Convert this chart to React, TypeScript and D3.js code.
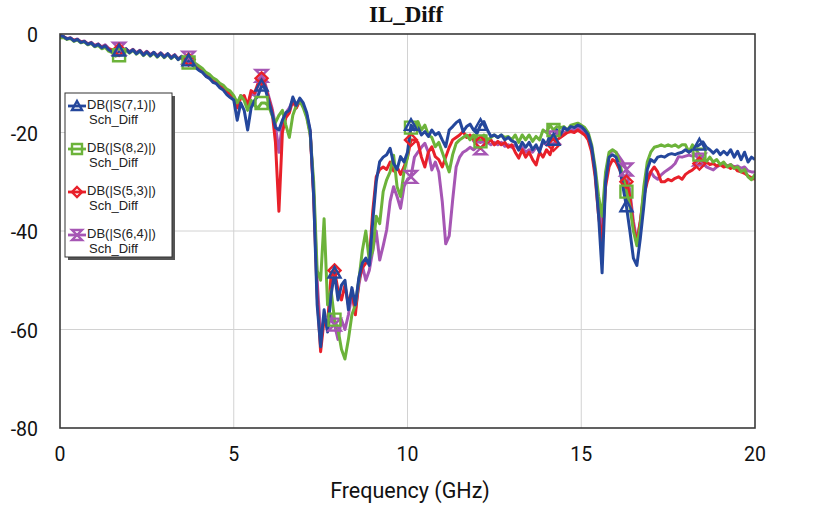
import * as d3 from 'd3';

// sweep 0..20 GHz, 0.1 GHz step (201 pts per trace)
const freqStepGHz = 0.1;

const s71 = [
  -0.3, -0.5, -1.0, -0.8, -1.4, -1.1, -1.7, -1.5, -2.1, -1.8,
  -2.5, -2.1, -2.8, -2.4, -3.2, -3.6, -4.1, -3.4, -3.9, -3.0,
  -3.8, -3.2, -4.0, -3.4, -4.3, -3.6, -4.4, -3.7, -4.6, -3.9,
  -4.7, -4.0, -4.9, -4.3, -5.2, -4.6, -5.8, -5.4, -6.3, -6.8,
  -7.4, -7.8, -8.6, -9.0, -9.8, -10.1, -10.9, -11.4, -12.3, -12.9,
  -13.4, -17.5, -14.0, -15.5, -19.5, -15.0, -13.5, -12.5, -10.5, -11.0,
  -13.5, -16.0, -19.0, -19.5, -17.5, -16.0, -15.5, -12.8, -14.5, -13.0,
  -14.0, -16.0, -19.5, -33.0, -55.0, -63.5, -56.0, -60.5, -53.0, -48.5,
  -54.0, -51.0, -50.0, -56.0, -51.5, -55.0, -49.5, -46.5, -45.5, -47.0,
  -38.0, -30.0, -25.9, -25.0, -24.5, -23.2, -26.3, -27.5, -24.9, -26.0,
  -24.0, -18.5, -19.5, -19.0, -20.5, -19.8, -20.8, -19.5, -20.5, -20.0,
  -21.5, -22.9, -19.5, -18.8, -18.0, -17.5, -19.8, -18.8, -18.3, -19.5,
  -20.2, -18.5, -17.8, -19.5, -20.8, -20.5, -21.0, -20.5, -21.5, -21.0,
  -21.7, -22.0, -23.6, -22.0, -23.0, -22.0, -23.5, -22.5, -24.0, -21.5,
  -22.5, -20.5, -21.5, -19.5, -20.5, -19.0, -19.5, -18.8, -19.0, -18.5,
  -18.8, -19.5, -20.5, -23.0, -28.0, -37.0, -48.5, -30.0, -25.0, -24.5,
  -25.0, -27.0, -31.0, -35.0, -40.0, -45.5, -47.0, -41.5, -35.0, -27.5,
  -25.5, -26.0, -25.0, -24.8, -25.0, -24.5, -24.3, -24.5, -24.2, -24.0,
  -23.5, -24.0, -23.5, -23.0, -22.5, -21.9, -23.0, -23.5, -24.2, -23.5,
  -24.5, -23.8, -24.5, -23.5, -25.0, -23.8, -25.5, -24.0, -26.0, -25.0,
  -25.5,
];

const s82 = [
  -0.8, -0.7, -1.1, -0.9, -1.5, -1.2, -1.8, -1.6, -2.2, -1.9,
  -2.6, -2.3, -3.0, -2.7, -3.5, -3.8, -4.5, -4.3, -4.2, -3.3,
  -3.9, -3.3, -4.1, -3.5, -4.4, -3.8, -4.5, -3.9, -4.7, -4.0,
  -4.8, -4.1, -5.0, -4.4, -5.2, -4.6, -5.5, -5.8, -5.6, -6.0,
  -6.5, -7.0, -7.8, -8.2, -8.9, -9.3, -10.0, -10.4, -11.2, -11.6,
  -12.5, -14.0, -12.5, -13.5, -15.5, -13.5, -14.5, -15.0, -14.0, -14.0,
  -14.5, -16.5, -18.0, -16.5, -15.5, -18.5, -21.0, -16.5, -14.5, -13.5,
  -15.0, -17.0, -20.5, -30.0, -48.0, -50.0, -37.5, -55.0, -52.0, -58.0,
  -60.0, -64.0, -66.0, -62.0, -57.0, -55.0, -50.0, -44.0, -40.0, -46.0,
  -44.0, -37.0, -38.5, -32.0, -29.6, -28.0, -24.6, -31.0, -33.0, -28.0,
  -25.0, -19.0, -18.5, -17.8, -19.5, -18.5, -20.5, -21.0, -22.9, -22.0,
  -24.0, -26.0, -28.0, -24.5, -22.2, -21.5, -21.0, -20.5, -21.5, -20.5,
  -21.0, -21.8, -20.5, -21.5, -21.0, -20.5, -21.0, -20.5, -21.0, -20.8,
  -21.5, -20.5, -22.0, -20.5, -21.5, -20.5, -21.8, -20.8, -21.5, -19.5,
  -20.0, -18.5, -19.5, -18.8, -19.0, -18.8, -19.5, -18.5, -18.3, -18.1,
  -18.5, -19.0, -20.0, -22.5, -27.0, -33.0, -37.0, -28.0, -24.0, -23.5,
  -24.0, -26.0, -29.0, -32.0, -35.0, -40.0, -43.0, -39.0, -31.0, -26.0,
  -24.0, -23.0, -22.8, -22.5, -22.8, -22.5, -22.8, -22.5, -23.0, -22.5,
  -22.5, -24.0, -22.5, -23.5, -24.5, -25.0, -25.9, -25.0, -26.0, -25.5,
  -26.5, -26.0, -27.0, -26.5, -27.3, -27.0, -28.0, -27.5, -29.0, -29.6,
  -28.5,
];

const s53 = [
  -0.4, -0.5, -1.0, -0.8, -1.3, -1.1, -1.6, -1.5, -2.0, -1.8,
  -2.4, -2.1, -2.7, -2.4, -3.0, -3.3, -3.6, -3.2, -3.6, -3.1,
  -3.7, -3.2, -3.9, -3.4, -4.2, -3.6, -4.3, -3.8, -4.5, -3.9,
  -4.6, -4.1, -4.8, -4.3, -5.1, -4.6, -5.4, -5.2, -5.9, -6.6,
  -7.2, -7.6, -8.5, -8.9, -9.6, -10.0, -10.6, -11.0, -11.8, -12.2,
  -13.0, -15.0, -13.0, -12.5, -14.5, -11.5, -12.0, -10.0, -9.0, -10.5,
  -13.0, -15.5, -22.0, -36.0, -20.0, -17.0, -16.0, -13.5, -15.0, -13.5,
  -14.5, -16.5, -20.0, -33.0, -53.0, -64.5, -58.0, -59.0, -49.0, -48.0,
  -52.0, -54.0, -51.0, -55.0, -52.0, -57.0, -50.0, -47.5, -46.5, -46.0,
  -36.0, -29.0, -27.5, -27.0, -27.5, -26.0, -27.8, -27.0, -28.5, -27.0,
  -25.0, -21.5, -21.5, -22.0, -25.0, -27.0, -24.0, -22.9, -24.9, -25.5,
  -27.0, -25.0, -23.0, -21.5, -21.0, -20.5, -19.8, -21.0, -20.5, -21.5,
  -21.0, -22.0, -20.8, -22.0, -21.5, -22.5, -21.8, -22.5, -22.0, -23.0,
  -22.5, -24.0, -25.2, -23.5, -25.0, -24.0, -25.5, -26.6, -24.0, -25.0,
  -23.5, -24.5, -22.5, -21.5, -21.0, -20.5, -20.0, -19.8, -20.0, -19.5,
  -20.0, -20.5, -21.5, -24.0, -29.0, -37.0, -42.0, -31.0, -27.0, -25.5,
  -26.0, -27.5, -29.0, -30.0, -33.0, -39.0, -42.5, -38.0, -33.0, -30.0,
  -28.0, -27.0, -28.0, -30.0, -30.0, -29.5, -29.8, -29.3, -29.0, -29.5,
  -28.5, -28.0, -27.6, -27.0, -26.3, -26.5, -26.0, -26.5, -26.3, -26.8,
  -26.5, -27.0, -26.8, -27.3, -27.0, -27.8, -28.0, -28.3, -28.8, -29.2,
  -29.5,
];

const s64 = [
  -0.4, -0.6, -0.9, -0.8, -1.3, -1.0, -1.6, -1.4, -2.0, -1.7,
  -2.3, -2.0, -2.6, -2.2, -2.9, -3.2, -3.4, -3.0, -3.5, -3.0,
  -3.6, -3.1, -3.8, -3.3, -4.1, -3.5, -4.2, -3.7, -4.4, -3.8,
  -4.5, -4.0, -4.7, -4.2, -5.0, -4.5, -5.3, -4.8, -5.7, -6.4,
  -7.0, -7.5, -8.3, -8.7, -9.4, -9.8, -10.5, -10.9, -11.6, -12.0,
  -12.8, -14.5, -12.5, -13.0, -15.0, -12.0, -12.5, -10.5, -8.5, -10.0,
  -12.5, -15.0, -18.5, -24.0, -18.0, -16.0, -15.0, -13.5, -15.0, -13.5,
  -14.5, -16.5, -20.0, -32.0, -50.0, -61.0, -58.0, -60.0, -57.0, -59.0,
  -62.0, -58.0, -60.0, -57.0, -53.0, -56.0, -51.0, -47.0, -50.0, -48.0,
  -44.0, -40.0, -45.9, -43.0, -39.8, -34.0, -31.0, -33.0, -35.4, -31.0,
  -29.5, -29.0, -25.0, -24.0, -23.0, -22.2, -24.0, -27.6, -26.0, -28.0,
  -34.0, -42.6, -41.0, -33.7, -27.0, -25.0, -24.0, -23.6, -23.0, -23.5,
  -22.9, -23.2, -22.5, -22.0, -22.5, -22.0, -22.5, -22.0, -22.8, -22.5,
  -23.0, -22.5, -23.5, -23.0, -24.0, -23.5, -24.0, -23.0, -23.5, -22.0,
  -22.5, -21.5, -21.0, -20.5, -20.5, -20.0, -19.8, -19.5, -19.5, -19.0,
  -19.5, -20.0, -21.0, -23.5, -28.0, -35.0, -40.0, -29.0, -24.5, -23.6,
  -24.0, -25.0, -26.0, -27.5, -32.0, -38.0, -42.0, -38.0, -32.0, -29.0,
  -28.0, -29.0, -29.5, -28.6, -28.0, -27.5, -27.0, -26.3, -24.9, -25.0,
  -24.8, -24.6, -24.8, -24.6, -25.5, -26.0, -27.0, -27.3, -27.6, -27.0,
  -26.5, -26.3, -26.8, -26.5, -27.0, -26.8, -27.3, -27.0, -27.8, -28.0,
  -28.0,
];

const seriesNames = ['DB(|S(7,1)|)', 'DB(|S(8,2)|)', 'DB(|S(5,3)|)', 'DB(|S(6,4)|)'];
const seriesColors = ['#24479c', '#6cb33a', '#e8202a', '#a656b4'];
const seriesShapes = ['triangle', 'square', 'diamond', 'hourglass'];
const seriesValues = [s71, s82, s53, s64];
const drawOrder = [3, 2, 1, 0];

const markerFreqs = [1.7, 3.7, 5.8, 7.9, 10.1, 12.1, 14.2, 16.3, 18.4];
const xTicks = [0, 5, 10, 15, 20];
const yTicks = [0, -20, -40, -60, -80];

const W = 824;
const H = 511;
const left = 60, right = 755, top = 34, bottom = 428;

const x = d3.scaleLinear().domain([0, 20]).range([left, right]);
const y = d3.scaleLinear().domain([-80, 0]).range([bottom, top]);

const markerPath = (shape: string, s = 6) => {
  switch (shape) {
    case 'triangle':
      return `M0,${-s} L${s},${s * 0.8} L${-s},${s * 0.8} Z`;
    case 'square':
      return `M${-s},${-s} H${s} V${s} H${-s} Z`;
    case 'diamond':
      return `M0,${-s} L${s},0 L0,${s} L${-s},0 Z`;
    default:
      return `M${-s},${-s} H${s} L${-s},${s} H${s} Z`;
  }
};

const App = () => {
  const line = d3
    .line<number>()
    .x((_, i) => x(i * freqStepGHz))
    .y((d) => y(d));

  const legendX = 65, legendY = 93, legendW = 107, legendH = 164;

  return (
    <svg width={W} height={H} style={{ position: 'absolute', left: 0, top: 0, background: '#fff' }}>
      <text x={406} y={22} textAnchor="middle" fontFamily="Liberation Serif" fontWeight="bold" fontSize={23} fill="#111">
        IL_Diff
      </text>

      <rect x={left} y={top} width={right - left} height={bottom - top} fill="#fff" />
      {xTicks.slice(1, -1).map((t) => (
        <line key={'gx' + t} x1={x(t)} x2={x(t)} y1={top} y2={bottom} stroke="#d2d2d2" strokeWidth={1} />
      ))}
      {yTicks.slice(1, -1).map((t) => (
        <line key={'gy' + t} x1={left} x2={right} y1={y(t)} y2={y(t)} stroke="#d2d2d2" strokeWidth={1} />
      ))}

      <defs>
        <clipPath id="plotclip">
          <rect x={left} y={top - 8} width={right - left} height={bottom - top + 8} />
        </clipPath>
      </defs>
      <g clipPath="url(#plotclip)">
        {drawOrder.map((k) => (
          <path
            key={'l' + k}
            d={line(seriesValues[k]) || ''}
            fill="none"
            stroke={seriesColors[k]}
            strokeWidth={3}
            strokeLinejoin="round"
          />
        ))}
        {drawOrder.map((k) =>
          markerFreqs.map((f) => {
            const v = seriesValues[k][Math.round(f / freqStepGHz)];
            return (
              <path
                key={'m' + k + '-' + f}
                d={markerPath(seriesShapes[k])}
                transform={`translate(${x(f)},${y(v)})`}
                fill="none"
                stroke={seriesColors[k]}
                strokeWidth={2.4}
              />
            );
          })
        )}
      </g>

      <rect x={left} y={top} width={right - left} height={bottom - top} fill="none" stroke="#3a3a3a" strokeWidth={1.6} />

      {yTicks.map((t) => (
        <text key={'yt' + t} x={38} y={y(t) + 3} textAnchor="end" dominantBaseline="middle" fontFamily="Roboto" fontSize={19.5} fill="#111">
          {t}
        </text>
      ))}
      {xTicks.map((t) => (
        <text key={'xt' + t} x={x(t)} y={456} textAnchor="middle" dominantBaseline="middle" fontFamily="Roboto" fontSize={19.5} fill="#111">
          {t}
        </text>
      ))}
      <text x={410} y={492} textAnchor="middle" dominantBaseline="middle" fontFamily="Roboto" fontSize={21.5} fill="#111">
        Frequency (GHz)
      </text>

      <g>
        <rect x={legendX + 3} y={legendY + 3} width={legendW} height={legendH} fill="#555" />
        <rect x={legendX} y={legendY} width={legendW} height={legendH} fill="#fff" stroke="#333" strokeWidth={1} />
        {seriesNames.map((name, i) => {
          const cy = legendY + 13 + i * 43;
          return (
            <g key={'lg' + i}>
              <line x1={legendX + 3} x2={legendX + 21} y1={cy} y2={cy} stroke={seriesColors[i]} strokeWidth={2.8} />
              <path d={markerPath(seriesShapes[i], 5)} transform={`translate(${legendX + 12},${cy})`} fill="none" stroke={seriesColors[i]} strokeWidth={2.4} />
              <text x={legendX + 22} y={cy} dominantBaseline="middle" fontFamily="Liberation Sans" fontSize={13} fill="#222">
                {name}
              </text>
              <text x={legendX + 24} y={cy + 15} dominantBaseline="middle" fontFamily="Liberation Sans" fontSize={13} fill="#222">
                Sch_Diff
              </text>
            </g>
          );
        })}
      </g>
    </svg>
  );
};

export default App;
